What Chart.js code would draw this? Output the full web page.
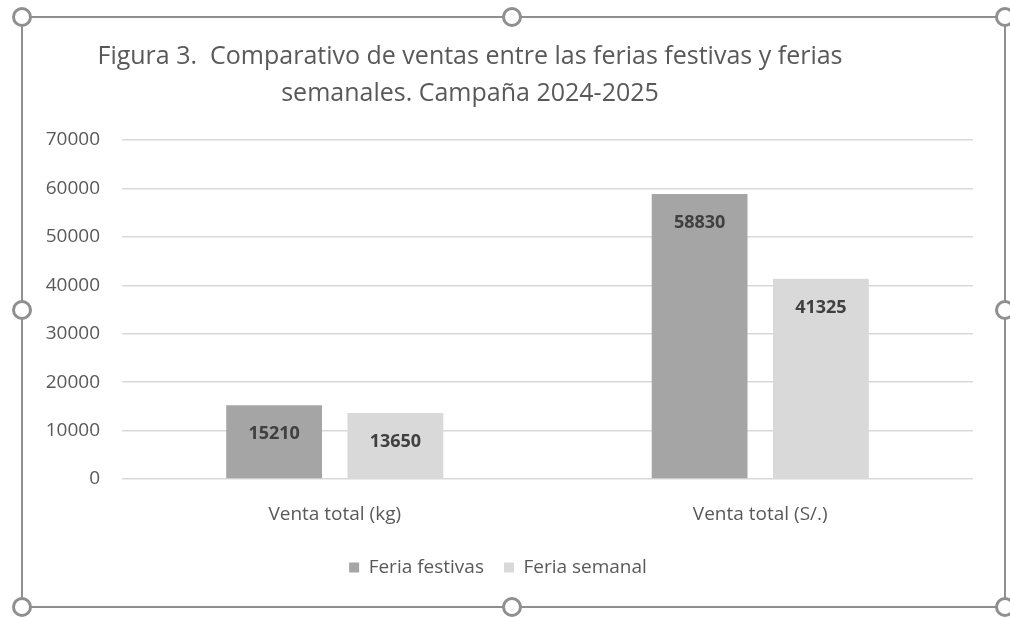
<!DOCTYPE html>
<html>
<head>
<meta charset="utf-8">
<script src="https://cdn.jsdelivr.net/npm/chart.js@4"></script>
<style>
  html, body { margin: 0; padding: 0; background: #fff; }
  body { width: 1010px; height: 618px; position: relative; overflow: hidden; }
  .frame { position: absolute; left: 21px; top: 16px; width: 981px; height: 588px; border: 2px solid #8f8f8f; }
  .frame canvas { display: block; }
  .handle { position: absolute; width: 14px; height: 14px; margin: -10px 0 0 -10px; border: 3px solid #8f8f8f; border-radius: 50%; background: #fff; }
</style>
</head>
<body>
<div class="frame"><canvas id="chart" width="981" height="588"></canvas></div>
<div class="handle" style="left:22px;top:17px"></div>
<div class="handle" style="left:512px;top:17px"></div>
<div class="handle" style="left:1005px;top:17px"></div>
<div class="handle" style="left:22px;top:310px"></div>
<div class="handle" style="left:1005px;top:310px"></div>
<div class="handle" style="left:22px;top:607px"></div>
<div class="handle" style="left:512px;top:607px"></div>
<div class="handle" style="left:1005px;top:607px"></div>
<script>
var categories = ['Venta total (kg)', 'Venta total (S/.)'];
var feriaFestivas = [15210, 58830];
var feriaSemanal = [13650, 41325];
var titleLines = ['Figura 3.  Comparativo de ventas entre las ferias festivas y ferias', 'semanales. Campaña 2024-2025'];

var fontFamily = "'Open Sans', 'Noto Sans', sans-serif";

// title drawn by hand so it can sit left of centre like the original
var titlePlugin = {
    id: 'sideTitle',
    afterDraw: function (chart) {
        var ctx = chart.ctx;
        ctx.save();
        ctx.fillStyle = '#595959';
        ctx.font = '25px ' + fontFamily;
        ctx.textAlign = 'center';
        ctx.textBaseline = 'alphabetic';
        ctx.fillText(titleLines[0], 447, 46);
        ctx.fillText(titleLines[1], 447, 83);
        ctx.restore();
    }
};

// value labels inside the top of each bar
var valueLabels = {
    id: 'valueLabels',
    afterDatasetsDraw: function (chart) {
        var ctx = chart.ctx;
        ctx.save();
        ctx.fillStyle = '#404040';
        ctx.font = 'bold 18px ' + fontFamily;
        ctx.textAlign = 'center';
        ctx.textBaseline = 'middle';
        chart.data.datasets.forEach(function (ds, i) {
            chart.getDatasetMeta(i).data.forEach(function (bar, j) {
                ctx.fillText(ds.data[j], bar.x, bar.y + 29);
            });
        });
        ctx.restore();
    }
};

var chart = new Chart(document.getElementById('chart'), {
    type: 'bar',
    data: {
        labels: categories,
        datasets: [{
            label: 'Feria festivas',
            data: feriaFestivas,
            backgroundColor: '#a5a5a5',
            categoryPercentage: 0.57,
            barPercentage: 0.79
        }, {
            label: 'Feria semanal',
            data: feriaSemanal,
            backgroundColor: '#d9d9d9',
            categoryPercentage: 0.57,
            barPercentage: 0.79
        }]
    },
    options: {
        responsive: false,
        animation: false,
        layout: { padding: { top: 122, right: 31, left: 0, bottom: 19 } },
        scales: {
            x: {
                grid: { display: false, drawTicks: false },
                border: { display: false },
                ticks: { color: '#595959', font: { family: fontFamily, size: 19 }, padding: 24 },
                afterFit: function (scale) { scale.height = 59; }
            },
            y: {
                min: 0,
                max: 70000,
                ticks: {
                    stepSize: 10000,
                    color: '#595959',
                    font: { family: fontFamily, size: 19 },
                    padding: 22,
                    callback: function (v) { return String(v); }
                },
                grid: { color: '#d9d9d9', lineWidth: 1.5, drawTicks: false },
                border: { display: false },
                afterFit: function (scale) { scale.width = 99; }
            }
        },
        plugins: {
            title: { display: false },
            tooltip: { enabled: false },
            legend: {
                position: 'bottom',
                labels: {
                    boxWidth: 10,
                    boxHeight: 10,
                    padding: 20,
                    color: '#595959',
                    font: { family: fontFamily, size: 19 }
                }
            }
        }
    },
    plugins: [titlePlugin, valueLabels]
});
</script>
</body>
</html>
